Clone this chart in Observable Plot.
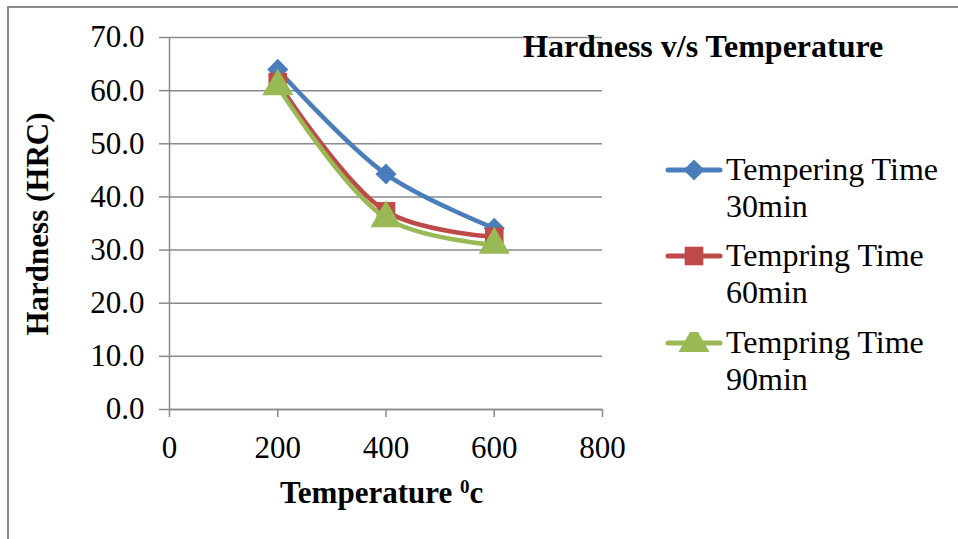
<!DOCTYPE html>
<html>
<head>
<meta charset="utf-8">
<script src="https://cdn.jsdelivr.net/npm/d3@7"></script>
<script src="https://cdn.jsdelivr.net/npm/@observablehq/plot@0.6"></script>
<style>
  body { margin: 0; background: #fff; }
  #wrap { position: relative; width: 958px; height: 539px; overflow: hidden; font-family: "Liberation Serif", "Times New Roman", serif; color: #000; }
  #frame { position: absolute; left: 7px; top: 6px; width: 960px; height: 540px; border-left: 2px solid #8a8a8a; border-top: 2px solid #8a8a8a; }
  #chart { position: absolute; left: 0; top: 0; }
  .lbl { position: absolute; font-weight: bold; font-size: 31px; line-height: 31px; white-space: nowrap; }
  .leg { position: absolute; left: 664px; font-size: 32px; line-height: 37px; display: flex; align-items: flex-start; }
  .leg svg { margin-top: 8px; flex: none; }
  .leg span { margin-left: 2px; }
</style>
</head>
<body>
<div id="wrap">
  <div id="frame"></div>
  <div id="chart"></div>
  <div class="lbl" id="title" style="left:523px; top:31px; font-size:32px;">Hardness v/s Temperature</div>
  <div class="lbl" id="xlabel" style="left:280px; top:477px;">Temperature <sup style="font-size:19px; vertical-align: 10px; line-height:0;">0</sup>c</div>
  <div class="lbl" id="ylabel" style="left:37px; top:224px; transform: translate(-50%,-50%) rotate(-90deg);">Hardness (HRC)</div>
  <div id="legend"></div>
</div>
<script>
const temperatures = [200, 400, 600];
const seriesNames = ["Tempering Time 30min", "Tempring Time 60min", "Tempring Time 90min"];
const legendLines = [["Tempering Time", "30min"], ["Tempring Time", "60min"], ["Tempring Time", "90min"]];
const hardness30 = [64.0, 44.3, 34.1];
const hardness60 = [61.6, 37.3, 32.5];
const hardness90 = [60.8, 36.0, 31.0];
const seriesColors = ["#4A7EBB", "#BE4B48", "#98B954"];
const seriesSymbols = ["diamond2", "square", "triangle"];
const xTicks = [0, 200, 400, 600, 800];
const yTicks = [0, 10, 20, 30, 40, 50, 60, 70];

const allValues = [hardness30, hardness60, hardness90];
const rows = [];
seriesNames.forEach((s, i) => temperatures.forEach((t, j) => rows.push({series: s, t, h: allValues[i][j]})));

const radii = [9.5, 10.5, 11.5];
const seriesMarks = seriesNames.flatMap((s, i) => {
  const d = rows.filter(r => r.series === s);
  return [
    Plot.line(d, {x: "t", y: "h", stroke: seriesColors[i], strokeWidth: 4.5, curve: "catmull-rom"}),
    Plot.dot(d, {x: "t", y: "h", fill: seriesColors[i], stroke: "none", symbol: () => seriesSymbols[i], r: radii[i]})
  ];
});

const chart = Plot.plot({
  width: 958,
  height: 539,
  marginLeft: 169,
  marginRight: 356,
  marginTop: 37,
  marginBottom: 130,
  style: {background: "transparent", color: "#000", fontFamily: "'Liberation Serif', 'Times New Roman', serif"},
  x: {domain: [0, 800]},
  y: {domain: [0, 70]},
  symbol: {type: "identity"},
  marks: [
    Plot.gridY(yTicks, {stroke: "#8a8a8a", strokeOpacity: 1, strokeWidth: 1.5}),
    Plot.ruleX([0], {stroke: "#8a8a8a", strokeWidth: 1.5}),
    Plot.ruleY([0], {stroke: "#8a8a8a", strokeWidth: 1.5}),
    Plot.axisY(yTicks, {tickSize: 10, tickPadding: 15, stroke: "#8a8a8a", strokeWidth: 1.5, fontSize: 31, label: null, tickFormat: d => d.toFixed(1)}),
    Plot.axisX(xTicks, {tickSize: 8, tickPadding: 18, stroke: "#8a8a8a", strokeWidth: 1.5, fontSize: 31, label: null, tickFormat: d => String(d)}),
    ...seriesMarks
  ]
});
document.getElementById("chart").appendChild(chart);

// legend
const legend = document.getElementById("legend");
const tops = [151, 237, 324];
seriesNames.forEach((s, i) => {
  const div = document.createElement("div");
  div.className = "leg";
  div.style.top = tops[i] + "px";
  const sym = d3.symbol().type([d3.symbolDiamond2, d3.symbolSquare, d3.symbolTriangle][i]).size(Math.PI * radii[i] * radii[i])();
  div.innerHTML = `<svg width="60" height="22" viewBox="0 0 60 22">
      <line x1="4" y1="11" x2="56" y2="11" stroke="${seriesColors[i]}" stroke-width="5" stroke-linecap="round"/>
      <path d="${sym}" transform="translate(30,11)" fill="${seriesColors[i]}"/>
    </svg><span>${legendLines[i][0]}<br>${legendLines[i][1]}</span>`;
  legend.appendChild(div);
});
</script>
</body>
</html>
